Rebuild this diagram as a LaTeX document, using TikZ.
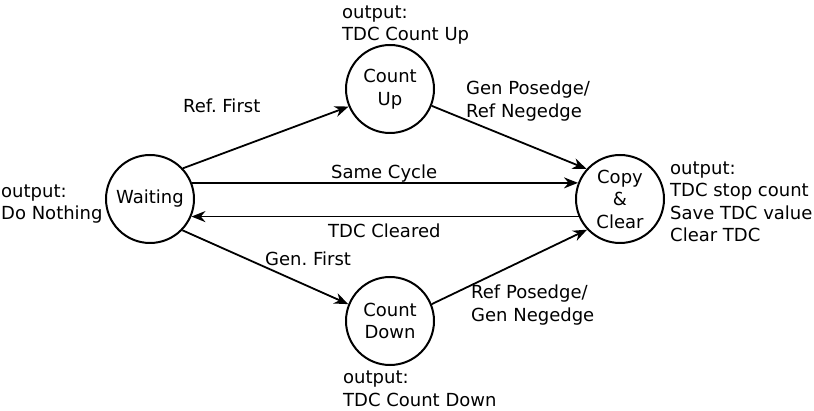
\documentclass[tikz,border=0pt]{standalone}
\usepackage{fontspec}
\setmainfont{DejaVu Sans}
\usetikzlibrary{arrows.meta}
\frenchspacing
\begin{document}
\begin{tikzpicture}[x=1pt,y=-1pt,
  every node/.style={font=\fontsize{18}{22.5}\selectfont},
  state/.style={circle,draw,line width=2pt,minimum size=88pt,inner sep=0pt,align=center},
  edge/.style={line width=1.8pt,-{Stealth[length=14pt,width=11pt]}},
  note/.style={anchor=west,align=left,inner sep=0pt}]
\useasboundingbox (0,0) rectangle (814,411);
% states
\node[state] (W) at (150,199) {Waiting};
\node[state] (U) at (390,89) {Count\\Up};
\node[state] (C) at (620,199) {Copy\\\&\\Clear};
\node[state] (D) at (390,321) {Count\\Down};
% transitions
\draw[edge] (W.43) -- (U.203);
\draw[edge] (U.338) -- (C.138);
\draw[edge] (W.21) -- (C.159);
\draw[edge] (C.203) -- (W.337);
\draw[edge] (W.316) -- (D.158);
\draw[edge] (D.22) -- (C.223);
% transition labels
\node[note] (lrf) at (183,106) {Ref. First};
\node[note] (lgp) at (466,101) {Gen Posedge/\\Ref Negedge};
\node[note] (lsc) at (331,174) {Same Cycle};
\node[note] (ltc) at (328,231) {TDC Cleared};
\node[note] (lgf) at (265,259) {Gen. First};
\node[note] (lrp) at (471,305) {Ref Posedge/\\Gen Negedge};
% state outputs
\node[note] (ou) at (342,25) {output:\\TDC Count Up};
\node[note] (ow) at (1,204) {output:\\Do Nothing};
\node[note] (oc) at (670,202) {output:\\TDC stop count\\Save TDC value\\Clear TDC};
\node[note] (od) at (343,389) {output:\\TDC Count Down};
\end{tikzpicture}
\end{document}
